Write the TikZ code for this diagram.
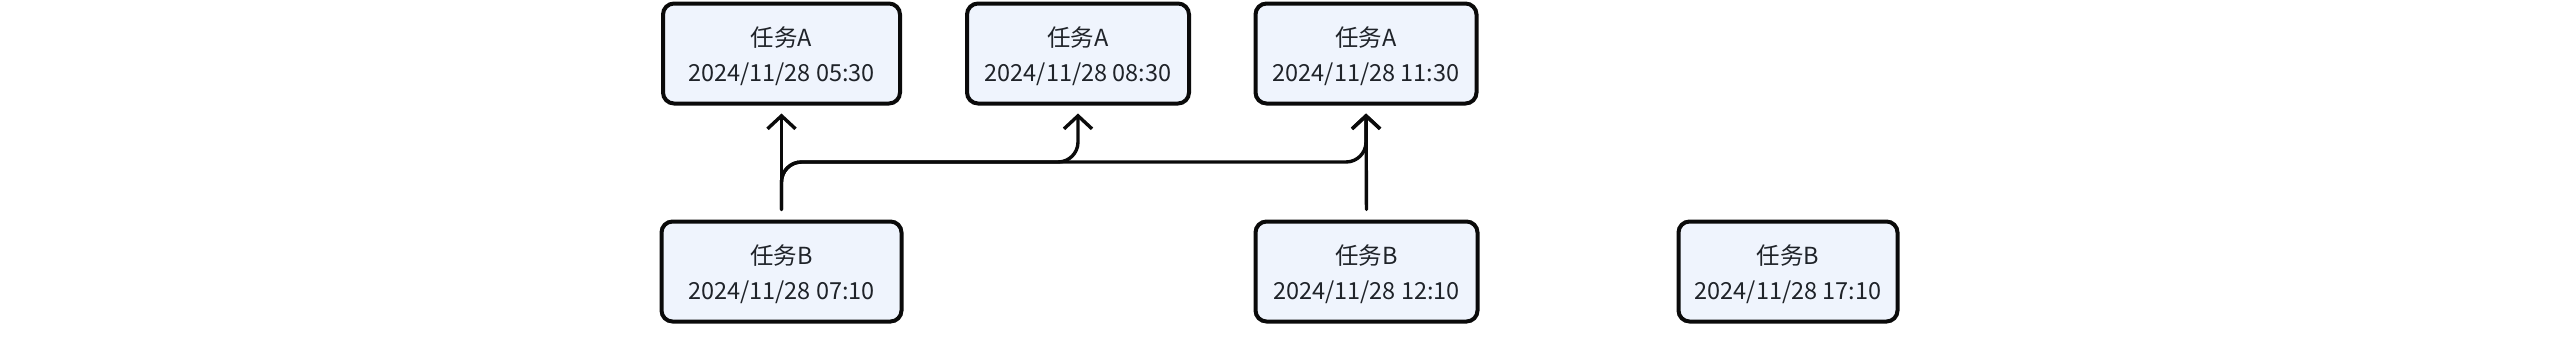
\documentclass[tikz,border=0pt]{standalone}
\usepackage{fontspec}
\setmainfont{Noto Sans CJK SC}
\usetikzlibrary{arrows.meta}
\definecolor{boxfill}{HTML}{EFF4FD}
\definecolor{boxtext}{HTML}{1F2329}
\definecolor{lineblack}{HTML}{0A0A0A}
\newcommand{\tasklines}[2]{\raisebox{-3pt}[\height][\depth]{\begin{tabular}{@{}c@{}}#1\\#2\end{tabular}}}
\tikzset{
  taskbox/.style={draw=lineblack, line width=4pt, fill=boxfill, rounded corners=11pt,
    minimum height=100pt, align=center, text=boxtext, inner sep=0pt,
    font=\fontsize{23.5}{35}\selectfont},
  conn/.style={draw=lineblack, line width=3.4pt, line cap=round, line join=round,
    -{Straight Barb[length=13pt, width=28pt, line width=3.4pt]},
    shorten <=10pt, shorten >=8pt}
}
\begin{document}
\begin{tikzpicture}[x=1pt,y=-1pt]
\useasboundingbox (0,0) rectangle (2560,360);
\node[taskbox, minimum width=237pt] (A1) at (781.5,53.5) {\tasklines{任务A}{2024/11/28 05:30}};
\node[taskbox, minimum width=222pt] (A2) at (1078,53.5) {\tasklines{任务A}{2024/11/28 08:30}};
\node[taskbox, minimum width=221pt] (A3) at (1366,53.5) {\tasklines{任务A}{2024/11/28 11:30}};
\node[taskbox, minimum width=240pt] (B1) at (781.5,271.5) {\tasklines{任务B}{2024/11/28 07:10}};
\node[taskbox, minimum width=222pt] (B2) at (1366.5,271.5) {\tasklines{任务B}{2024/11/28 12:10}};
\node[taskbox, minimum width=219pt] (B3) at (1788,271.5) {\tasklines{任务B}{2024/11/28 17:10}};
\coordinate (hy) at (0,162);
\draw[conn] (B1.north) -- (A1.south);
\draw[conn, rounded corners=20pt] (B1.north) |- (A2.south |- hy) -- (A2.south);
\draw[conn, rounded corners=20pt] (B1.north) |- (A3.south |- hy) -- (A3.south);
\draw[conn] (B2.north) -- (A3.south);
\end{tikzpicture}
\end{document}
